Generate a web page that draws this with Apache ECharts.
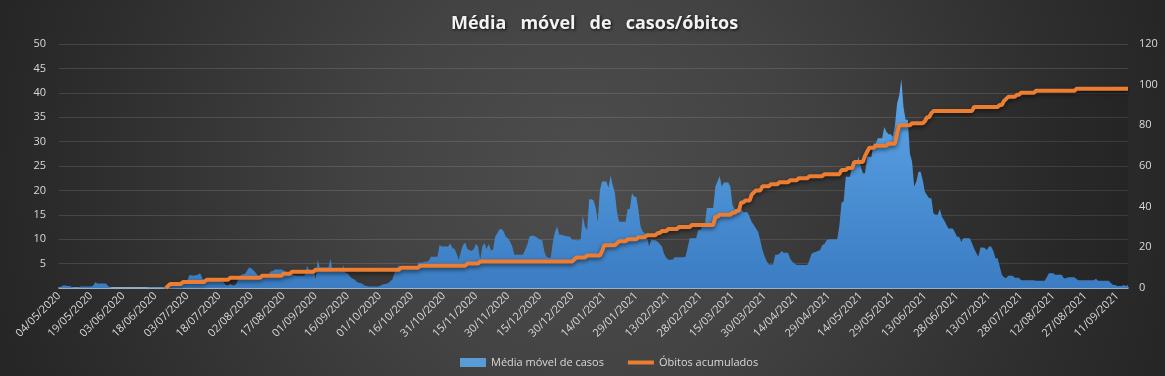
<!DOCTYPE html>
<html>
<head>
<meta charset="utf-8">
<script src="https://cdn.jsdelivr.net/npm/echarts@6/dist/echarts.min.js"></script>
<style>
  html, body { margin: 0; padding: 0; background: #2b2b2b; }
  #chart { width: 1165px; height: 376px; }
</style>
</head>
<body>
<div id="chart"></div>
<script>
// daily categories, 04/05/2020 -> 16/09/2021
const startDate = Date.UTC(2020, 4, 4);
const dayCount = 501;
const dates = [];
for (let i = 0; i < dayCount; i++) {
  const d = new Date(startDate + i * 86400000);
  dates.push(
    String(d.getUTCDate()).padStart(2, "0") + "/" +
    String(d.getUTCMonth() + 1).padStart(2, "0") + "/" + d.getUTCFullYear()
  );
}

// Média móvel de casos (one line = 15 days)
const mediaCasos = [
  0.1,0.3,0.5,0.5,0.4,0.4,0.2,0.1,0.1,0.1,0.3,0.3,0.3,0.3,0.3, // 04/05/2020
  0.3,0.5,1.2,0.9,0.9,0.9,0.9,0.9,0.4,0.1,0,0,0,0,0, // 19/05
  0,0,0,0,0,0,0,0,0,0,0,0,0.1,0.1,0.1, // 03/06
  0.1,0.1,0.1,0.1,0.1,0.1,0.2,0.3,0.5,0.7,0.9,1.0,1.1,1.4,1.5, // 18/06
  1.6,2.6,2.6,2.5,2.6,2.7,3.0,2.0,1.7,1.7,1.8,2.1,1.8,1.7,1.7, // 03/07
  1.7,1.7,1.2,0.6,0.5,0.8,0.6,0.5,0.9,2.0,2.6,2.8,2.9,3.6,4.2, // 18/07
  4.0,3.6,3.1,2.6,2.2,2.2,2.2,2.2,2.8,3.4,3.5,3.8,3.8,3.8,3.8, // 02/08
  3.6,3.4,3.1,3.0,2.7,2.6,2.5,2.5,2.5,2.5,2.6,4.5,3.7,3.7,3.7, // 17/08
  1.9,5.8,4.2,4.2,4.2,4.2,4.2,6.0,3.4,3.4,3.4,3.4,3.4,4.6,3.0, // 01/09
  3.0,2.4,2.0,1.8,1.4,1.1,1.0,0.8,0.5,0.4,0.3,0.3,0.3,0.3,0.3, // 16/09
  0.4,0.6,0.8,0.8,1.0,1.4,1.8,3.2,4.0,4.7,3.8,3.8,3.8,3.8,3.8, // 01/10
  3.8,3.8,3.8,5.2,5.2,5.2,5.4,5.4,5.6,6.4,6.4,6.4,6.4,8.8,8.5, // 16/10
  8.5,8.5,8.5,9.1,8.2,8.0,7.0,5.8,7.5,8.8,9.3,8.0,7.8,7.6,8.0, // 31/10
  9.0,8.5,5.8,8.5,9.2,8.0,9.0,7.8,7.8,10.5,11.2,12.0,12.1,11.6,10.5, // 15/11
  10.2,9.5,8.5,6.8,6.8,6.8,6.8,6.8,7.8,8.8,10.5,10.7,10.7,10.5,10.2, // 30/11
  9.9,9.8,7.5,6.4,6.2,6.2,9.5,11.5,12.6,10.9,10.9,10.8,10.6,10.6,10.5, // 15/12
  9.9,9.9,9.8,9.8,10.0,14.8,12.6,11.9,18.2,18.2,18.0,16.5,13.6,20.1,21.8, // 30/12
  21.8,21.8,20.5,23.0,21.0,19.5,15.5,13.6,13.6,13.6,13.6,16.2,16.2,19.4,18.7, // 14/01/2021
  18.7,16.0,12.6,11.6,11.2,10.5,8.5,9.9,9.9,9.8,9.5,9.0,8.5,7.0,6.2, // 29/01
  5.8,5.8,5.8,6.3,6.3,6.3,6.3,6.3,6.4,8.2,10.2,10.2,10.2,10.2,11.9, // 13/02
  11.9,12.6,12.6,16.4,16.4,16.4,16.4,20.8,21.8,22.9,20.8,21.6,21.6,21.6,20.8, // 28/02
  17.0,16.2,16.2,16.2,16.2,15.5,15.5,15.5,14.6,13.5,12.9,12.2,11.5,9.8,7.8, // 15/03
  6.5,5.5,4.8,4.8,4.8,6.8,6.8,7.0,7.6,7.2,7.2,7.2,6.0,5.4,5.0, // 30/03
  4.7,4.7,4.7,4.7,4.7,4.7,5.7,7.0,7.3,7.4,7.6,7.8,8.8,9.0,9.8, // 14/04
  10.0,10.0,10.0,10.0,10.0,12.8,17.5,17.7,22.8,22.8,22.8,25.5,25.5,25.5,26.9, // 29/04
  24.9,23.5,23.5,26.9,26.9,26.9,29.6,29.6,30.7,30.7,30.7,33.0,32.0,31.5,31.5, // 14/05
  31.0,33.4,37.8,39.5,42.8,37.0,34.5,34.5,27.5,25.9,20.8,21.8,23.8,23.8,22.1, // 29/05
  19.7,19.0,18.4,18.4,15.3,15.0,15.0,16.2,14.6,13.9,13.0,12.2,12.2,12.2,11.5, // 13/06
  10.5,10.5,9.5,10.2,10.2,10.2,10.2,9.2,8.1,7.2,6.4,8.3,8.3,8.2,7.8, // 28/06
  8.5,8.5,7.6,6.1,6.1,4.4,2.7,2.2,2.0,2.5,2.5,2.5,2.1,2.1,2.1, // 13/07
  1.6,1.6,1.6,1.6,1.6,1.6,1.6,1.5,1.5,1.5,1.5,1.5,2.2,3.0,3.0, // 28/07
  3.0,2.7,2.7,2.7,2.7,2.0,2.0,2.2,2.2,2.2,2.2,1.8,1.6,1.6,1.6, // 12/08
  1.6,1.6,1.6,1.6,1.6,1.9,1.5,1.5,1.5,1.5,1.5,1.5,1.0,0.6,0.6, // 27/08
  0.4,0.4,0.4,0.6,0.4,0.6 // 11/09
];

// Óbitos acumulados (one line = 15 days); no line drawn before the first death
const obitosAcumulados = [
  null,null,null,null,null,null,null,null,null,null,null,null,null,null,null, // 04/05/2020
  null,null,null,null,null,null,null,null,null,null,null,null,null,null,null, // 19/05
  null,null,null,null,null,null,null,null,null,null,null,null,null,null,null, // 03/06
  null,null,null,null,null,0,1,2,2,2,2,2,2,3,3, // 18/06
  3,3,3,3,3,3,3,3,3,4,4,4,4,4,4, // 03/07
  4,4,4,4,4,5,5,5,5,5,5,5,5,5,5, // 18/07
  5,5,5,5,5,6,6,6,6,6,6,6,6,6,6, // 02/08
  7,7,7,7,8,8,8,8,8,8,8,8,8,8,8, // 17/08
  9,9,9,9,9,9,9,9,9,9,9,9,9,9,9, // 01/09
  9,9,9,9,9,9,9,9,9,9,9,9,9,9,9, // 16/09
  9,9,9,9,9,9,9,9,9,9,10,10,10,10,10, // 01/10
  10,10,10,10,11,11,11,11,11,11,11,11,11,11,11, // 16/10
  11,11,11,11,11,11,11,11,11,11,11,12,12,12,12, // 31/10
  12,12,13,13,13,13,13,13,13,13,13,13,13,13,13, // 15/11
  13,13,13,13,13,13,13,13,13,13,13,13,13,13,13, // 30/11
  13,13,13,13,13,13,13,13,13,13,13,13,13,13,13, // 15/12
  13,14,15,15,15,15,15,16,16,16,16,16,16,16,18, // 30/12
  21,21,21,21,21,21,22,23,23,23,23,24,24,24,24, // 14/01/2021
  24,25,25,25,25,26,26,26,26,26,27,27,28,28,28, // 29/01
  29,29,29,29,29,30,30,30,30,30,30,31,31,31,31, // 13/02
  31,31,31,31,31,31,31,35,35,36,36,36,36,36,36, // 28/02
  37,37,38,38,42,42,43,43,43,46,47,48,48,48,50, // 15/03
  50,50,50,51,51,51,51,52,52,52,52,52,53,53,53, // 30/03
  53,54,54,54,54,54,55,55,55,55,55,55,55,56,56, // 14/04
  56,56,56,56,56,56,58,58,58,59,59,59,62,62,62, // 29/04
  62,62,65,67,69,69,69,70,70,70,70,70,70,71,71, // 14/05
  71,71,76,80,80,80,80,80,80,81,81,81,81,81,81, // 29/05
  82,84,84,86,87,87,87,87,87,87,87,87,87,87,87, // 13/06
  87,87,87,87,87,87,87,87,89,89,89,89,89,89,89, // 28/06
  89,89,89,89,89,90,90,92,93,94,94,94,94,95,95, // 13/07
  96,96,96,96,96,96,96,97,97,97,97,97,97,97,97, // 28/07
  97,97,97,97,97,97,97,97,97,97,97,98,98,98,98, // 12/08
  98,98,98,98,98,98,98,98,98,98,98,98,98,98,98, // 27/08
  98,98,98,98,98,98 // 11/09
];

const labelColor = "#d9d9d9";
const fontFamily = "'Open Sans', 'Noto Sans', sans-serif";

const chart = echarts.init(document.getElementById("chart"));
chart.setOption({
  backgroundColor: {
    type: "radial",
    x: 0.5,
    y: 0.47,
    r: 1.6,
    colorStops: [
      { offset: 0, color: "#4d4d4d" },
      { offset: 0.35, color: "#434343" },
      { offset: 0.8, color: "#2e2e2e" },
      { offset: 1, color: "#262626" },
    ],
  },
  animation: false,
  title: {
    text: "Média   móvel   de   casos/óbitos",
    left: 446,
    top: 10,
    textStyle: {
      color: "#f2f2f2",
      fontSize: 18,
      fontWeight: "bold",
      fontFamily: fontFamily,
      textShadowColor: "rgba(0,0,0,0.8)",
      textShadowBlur: 3,
      textShadowOffsetX: 1,
      textShadowOffsetY: 1,
    },
  },
  legend: {
    top: 352,
    left: 455,
    itemGap: 22,
    itemWidth: 26,
    itemHeight: 9,
    textStyle: { color: labelColor, fontSize: 11, fontFamily: fontFamily },
    data: [
      { name: "Média móvel de casos", icon: "rect" },
      { name: "Óbitos acumulados", itemStyle: { opacity: 0 }, lineStyle: { width: 4 } },
    ],
  },
  grid: { left: 59, right: 37, top: 44, bottom: 88 },
  xAxis: {
    type: "category",
    data: dates,
    boundaryGap: false,
    axisTick: { show: false },
    axisLine: { lineStyle: { color: "#b4d0ec", width: 1.5 } },
    axisLabel: {
      interval: 14,
      rotate: 45,
      color: labelColor,
      fontSize: 11,
      fontFamily: fontFamily,
      margin: 6,
    },
    splitLine: { show: false },
  },
  yAxis: [
    {
      type: "value",
      min: 0,
      max: 50,
      interval: 5,
      axisLine: { show: false },
      axisTick: { show: false },
      axisLabel: {
        color: labelColor,
        fontSize: 11,
        fontFamily: fontFamily,
        margin: 13,
        showMinLabel: false,
      },
      splitLine: { lineStyle: { color: "rgba(255,255,255,0.12)", width: 1 } },
    },
    {
      type: "value",
      min: 0,
      max: 120,
      interval: 20,
      axisLine: { show: false },
      axisTick: { show: false },
      axisLabel: { color: labelColor, fontSize: 11, fontFamily: fontFamily, margin: 11 },
      splitLine: { show: false },
    },
  ],
  series: [
    {
      // darker band under the deaths line (chart style shading)
      name: "sombra",
      type: "line",
      yAxisIndex: 1,
      data: obitosAcumulados,
      symbol: "none",
      silent: true,
      lineStyle: { width: 0, opacity: 0 },
      areaStyle: { color: "rgba(0,0,0,0.16)" },
      z: 1,
    },
    {
      name: "Média móvel de casos",
      type: "line",
      data: mediaCasos,
      symbol: "none",
      lineStyle: { width: 0 },
      itemStyle: { color: "#5b9bd5" },
      areaStyle: {
        opacity: 1,
        color: {
          type: "linear",
          x: 0, y: 0, x2: 0, y2: 1,
          colorStops: [
            { offset: 0, color: "#5ea6e8" },
            { offset: 1, color: "#3b7cc2" },
          ],
        },
      },
      z: 2,
    },
    {
      name: "Óbitos acumulados",
      type: "line",
      yAxisIndex: 1,
      data: obitosAcumulados,
      symbol: "none",
      itemStyle: { color: "#ed7d31" },
      lineStyle: {
        color: "#ed7d31",
        width: 4,
        shadowColor: "rgba(0,0,0,0.55)",
        shadowBlur: 4,
        shadowOffsetY: 2,
      },
      z: 3,
    },
  ],
});
</script>
</body>
</html>
